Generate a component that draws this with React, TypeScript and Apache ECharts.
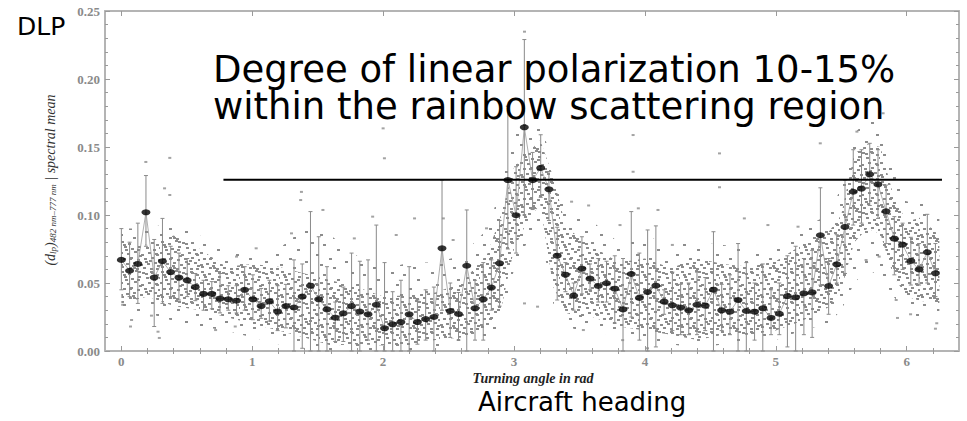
import React, { useEffect, useRef } from "react";
import * as echarts from "echarts";

// Turning angle (rad) of each bin mean
const angles = [
  0.000, 0.063, 0.126, 0.188, 0.251, 0.314, 0.377, 0.440, 0.503, 0.565,
  0.628, 0.691, 0.754, 0.817, 0.880, 0.942, 1.005, 1.068, 1.131, 1.194,
  1.257, 1.319, 1.382, 1.445, 1.508, 1.571, 1.634, 1.696, 1.759, 1.822,
  1.885, 1.948, 2.011, 2.073, 2.136, 2.199, 2.262, 2.325, 2.388, 2.450,
  2.513, 2.576, 2.639, 2.702, 2.765, 2.827, 2.890, 2.953, 3.016, 3.079,
  3.142, 3.204, 3.267, 3.330, 3.393, 3.456, 3.519, 3.581, 3.644, 3.707,
  3.770, 3.833, 3.896, 3.958, 4.021, 4.084, 4.147, 4.210, 4.273, 4.335,
  4.398, 4.461, 4.524, 4.587, 4.650, 4.712, 4.775, 4.838, 4.901, 4.964,
  5.027, 5.089, 5.152, 5.215, 5.278, 5.341, 5.404, 5.466, 5.529, 5.592,
  5.655, 5.718, 5.781, 5.843, 5.906, 5.969, 6.032, 6.095, 6.158, 6.220,
];

// Spectral-mean degree of linear polarization per bin
const means = [
  0.067, 0.059, 0.064, 0.102, 0.054, 0.066, 0.058, 0.054, 0.052, 0.047,
  0.042, 0.042, 0.0385, 0.038, 0.037, 0.045, 0.038, 0.033, 0.0365, 0.029,
  0.033, 0.032, 0.040, 0.048, 0.038, 0.0306, 0.0245, 0.0277, 0.033, 0.029,
  0.027, 0.034, 0.0167, 0.0196, 0.0213, 0.027, 0.0213, 0.0235, 0.025, 0.0755,
  0.0294, 0.0272, 0.0627, 0.0314, 0.038, 0.0466, 0.0645, 0.1257, 0.0998, 0.1645,
  0.1256, 0.1346, 0.1189, 0.0701, 0.0561, 0.0407, 0.0605, 0.0532, 0.0478, 0.0498,
  0.0458, 0.0306, 0.0566, 0.039, 0.0434, 0.048, 0.0363, 0.0336, 0.0319, 0.0299,
  0.034, 0.0333, 0.0451, 0.0299, 0.0289, 0.0375, 0.0294, 0.0289, 0.0314, 0.0243,
  0.0274, 0.0404, 0.0395, 0.0424, 0.0431, 0.0851, 0.0478, 0.0637, 0.0912, 0.1171,
  0.1194, 0.1299, 0.1225, 0.1027, 0.0826, 0.0782, 0.0662, 0.060, 0.0726, 0.0571,
];

const errHigh = [
  0.090, 0.080, 0.094, 0.129, 0.082, 0.0975, 0.077, 0.072, 0.068, 0.057,
  0.052, 0.051, 0.057, 0.048, 0.048, 0.062, 0.056, 0.046, 0.052, 0.048,
  0.049, 0.067, 0.064, 0.1025, 0.084, 0.062, 0.036, 0.047, 0.072, 0.066,
  0.067, 0.0926, 0.065, 0.0436, 0.052, 0.062, 0.0375, 0.045, 0.047, 0.1257,
  0.050, 0.043, 0.1037, 0.052, 0.065, 0.067, 0.096, 0.180, 0.1355, 0.229,
  0.146, 0.159, 0.132, 0.091, 0.065, 0.050, 0.084, 0.064, 0.068, 0.066,
  0.070, 0.068, 0.1025, 0.072, 0.089, 0.092, 0.045, 0.058, 0.049, 0.050,
  0.058, 0.054, 0.0877, 0.049, 0.056, 0.079, 0.065, 0.050, 0.064, 0.045,
  0.050, 0.070, 0.077, 0.068, 0.074, 0.120, 0.068, 0.0855, 0.1257, 0.148,
  0.148, 0.1527, 0.148, 0.122, 0.0988, 0.094, 0.0836, 0.079, 0.1005, 0.079,
];

const errLow = [
  0.045, 0.040, 0.035, 0.077, 0.018, 0.035, 0.040, 0.0375, 0.040, 0.037,
  0.030, 0.031, 0.028, 0.030, 0.028, 0.030, 0.023, 0.024, 0.022, 0.015,
  0.017, 0.000, 0.002, 0.000, 0.000, 0.000, 0.007, 0.007, 0.000, 0.000,
  0.008, 0.000, 0.000, 0.000, 0.000, 0.000, 0.005, 0.008, 0.000, 0.030,
  0.010, 0.008, 0.000, 0.008, 0.008, 0.030, 0.033, 0.075, 0.072, 0.100,
  0.104, 0.113, 0.096, 0.0375, 0.0436, 0.030, 0.042, 0.045, 0.036, 0.036,
  0.0205, 0.000, 0.025, 0.008, 0.000, 0.003, 0.027, 0.015, 0.012, 0.012,
  0.012, 0.015, 0.000, 0.015, 0.012, 0.000, 0.000, 0.008, 0.000, 0.012,
  0.012, 0.003, 0.000, 0.012, 0.010, 0.0485, 0.027, 0.050, 0.057, 0.0926,
  0.094, 0.107, 0.0975, 0.079, 0.056, 0.060, 0.0485, 0.0485, 0.050, 0.040,
];

// Envelopes of the cloud of single measurements (dense core and sparse fringe)
const cloudX = [
  0.0, 0.2, 0.4, 0.6, 0.8, 1.0, 1.2, 1.4, 1.6, 1.8, 2.0, 2.2, 2.4, 2.6, 2.8, 2.9,
  3.0, 3.1, 3.2, 3.3, 3.4, 3.5, 3.6, 3.8, 4.0, 4.2, 4.4, 4.6, 4.8, 5.0, 5.2, 5.4,
  5.5, 5.6, 5.7, 5.8, 5.9, 6.0, 6.1, 6.25,
];
const cloudUpper = [
  0.082, 0.078, 0.085, 0.075, 0.062, 0.064, 0.062, 0.057, 0.052, 0.047, 0.040, 0.041, 0.043, 0.050, 0.072, 0.100,
  0.135, 0.145, 0.155, 0.128, 0.090, 0.084, 0.077, 0.065, 0.068, 0.061, 0.068, 0.064, 0.062, 0.066, 0.078, 0.087,
  0.100, 0.145, 0.152, 0.150, 0.114, 0.095, 0.098, 0.085,
];
const cloudLower = [
  0.035, 0.040, 0.033, 0.030, 0.025, 0.020, 0.015, 0.010, 0.004, 0.005, 0.004, 0.004, 0.008, 0.010, 0.017, 0.030,
  0.075, 0.095, 0.108, 0.047, 0.028, 0.025, 0.025, 0.018, 0.015, 0.012, 0.008, 0.012, 0.012, 0.015, 0.022, 0.032,
  0.045, 0.080, 0.090, 0.086, 0.055, 0.040, 0.037, 0.035,
];
const fringeUpper = [
  0.090, 0.090, 0.095, 0.085, 0.075, 0.072, 0.075, 0.090, 0.085, 0.070, 0.060, 0.065, 0.065, 0.070, 0.090, 0.120,
  0.160, 0.170, 0.165, 0.140, 0.105, 0.100, 0.095, 0.080, 0.085, 0.078, 0.080, 0.078, 0.075, 0.078, 0.090, 0.100,
  0.120, 0.160, 0.170, 0.168, 0.135, 0.110, 0.110, 0.100,
];
const fringeLower = [
  0.025, 0.028, 0.022, 0.018, 0.015, 0.010, 0.005, 0.002, 0.000, 0.000, 0.000, 0.000, 0.002, 0.004, 0.010, 0.020,
  0.060, 0.080, 0.090, 0.035, 0.018, 0.015, 0.015, 0.010, 0.008, 0.005, 0.002, 0.005, 0.005, 0.008, 0.015, 0.020,
  0.030, 0.050, 0.060, 0.055, 0.040, 0.028, 0.025, 0.025,
];

// Isolated single measurements outside the cloud
const outlierX = [
  0.187, 0.37, 0.33, 0.37, 0.01, 0.078, 0.07, 0.28, 0.29, 0.23, 1.376, 1.37, 1.30, 1.03, 0.88, 0.72, 0.87,
  2.0, 2.01, 2.24, 1.92, 1.78, 1.54, 2.10, 2.46, 2.535, 2.79, 3.08, 3.08,
  3.91, 3.91, 4.57, 4.57, 3.18, 3.81, 3.95, 4.10, 4.21, 3.57, 3.44, 3.83, 4.02, 3.53,
  5.34, 4.76, 4.94, 5.17, 5.62, 5.82, 6.23, 6.22, 5.92, 5.93, 6.03, 5.69, 5.79,
];
const outlierY = [
  0.139, 0.142, 0.1196, 0.1147, 0.034, 0.0228, 0.018, 0.0142, 0.0096, 0.026, 0.117, 0.111, 0.0865, 0.0755, 0.0694, 0.0154, 0.018,
  0.1637, 0.1417, 0.0975, 0.0988, 0.0828, 0.1037, 0.0853, 0.0975, 0.0816, 0.0902, 0.2348, 0.035,
  0.1588, 0.1318, 0.1453, 0.1204, 0.0326, 0.0926, 0.1049, 0.1037, 0.078, 0.107, 0.1098, 0.008, 0.002, 0.0154,
  0.1527, 0.0975, 0.0926, 0.0914, 0.1613, 0.1748, 0.0204, 0.0164, 0.0375, 0.0243, 0.027, 0.0669, 0.0694,
];

// Reference level line
const thresholdX = [0.78, 6.27];
const thresholdY = [0.126, 0.126];

const xMajorTicks = [0, 1, 2, 3, 4, 5, 6];
const xMinorTicks = [
  0.2, 0.4, 0.6, 0.8, 1.2, 1.4, 1.6, 1.8, 2.2, 2.4, 2.6, 2.8, 3.2, 3.4, 3.6, 3.8,
  4.2, 4.4, 4.6, 4.8, 5.2, 5.4, 5.6, 5.8, 6.2,
];

const AXIS_GRAY = "#b4b4b4";
const TICK_GRAY = "#9a9a9a";
const LABEL_GRAY = "#8a8a8a";
const DOT_GRAY = "#8c8c8c";

// speckle texture layouts (styling only)
const DENSE_SPECKLE = [
  [1, 1], [8, 3], [15, 0], [22, 2], [30, 1], [36, 4], [4, 6], [11, 8], [18, 6], [26, 7],
  [33, 9], [39, 7], [0, 12], [7, 13], [14, 11], [21, 14], [28, 12], [35, 13], [3, 18], [10, 17],
  [17, 19], [24, 18], [31, 17], [38, 19], [6, 23], [13, 22], [20, 24], [27, 23], [34, 22], [1, 26],
  [9, 27], [16, 28], [23, 27], [30, 28], [37, 25], [19, 15], [25, 3], [12, 25], [5, 9], [29, 20],
  [36, 28], [18, 1],
];
const SPARSE_SPECKLE = [[3, 4], [17, 9], [31, 2], [9, 18], [25, 21], [36, 14], [13, 27], [0, 24]];

function makeTile(spots: number[][]) {
  const tile = document.createElement("canvas");
  tile.width = 40;
  tile.height = 30;
  const ctx = tile.getContext("2d");
  if (ctx) {
    ctx.fillStyle = DOT_GRAY;
    spots.forEach(([dx, dy]) => ctx.fillRect(dx, dy, 3, 2));
  }
  return tile;
}

export default function App() {
  const ref = useRef<HTMLDivElement>(null);

  useEffect(() => {
    if (!ref.current) return;
    const chart = echarts.init(ref.current, null, { renderer: "svg" });
    const denseTile = makeTile(DENSE_SPECKLE);
    const sparseTile = makeTile(SPARSE_SPECKLE);

    const bandSeries = (name: string, up: number[], lo: number[], tile: HTMLCanvasElement, z: number) => ({
      type: "custom",
      name,
      xAxisIndex: 0,
      yAxisIndex: 0,
      z,
      silent: true,
      data: [[0, 0]],
      renderItem: (_params: any, api: any) => {
        const pts: number[][] = [];
        for (let i = 0; i < cloudX.length; i++) pts.push(api.coord([cloudX[i], up[i]]));
        for (let i = cloudX.length - 1; i >= 0; i--) pts.push(api.coord([cloudX[i], lo[i]]));
        return {
          type: "polygon",
          shape: { points: pts },
          style: { fill: { image: tile, repeat: "repeat" }, stroke: null },
        };
      },
    });

    const xBase = { type: "value", min: -0.125, max: 6.4, gridIndex: 0, splitLine: { show: false } };

    const option: any = {
      animation: false,
      grid: { left: 105, top: 11, width: 854, height: 340 },
      xAxis: [
        {
          ...xBase,
          position: "bottom",
          axisLine: { show: true, onZero: false, lineStyle: { color: AXIS_GRAY, width: 2 } },
          axisTick: { show: true, inside: true, length: 5, customValues: xMajorTicks, lineStyle: { color: TICK_GRAY } },
          axisLabel: {
            show: true, customValues: xMajorTicks, margin: 4, color: LABEL_GRAY,
            fontFamily: "Liberation Serif", fontWeight: "bold", fontSize: 13,
          },
        },
        {
          ...xBase,
          position: "bottom",
          axisLine: { show: false },
          axisTick: { show: true, inside: true, length: 3, customValues: xMinorTicks, lineStyle: { color: TICK_GRAY } },
          axisLabel: { show: false },
        },
        {
          ...xBase,
          position: "top",
          axisLine: { show: true, onZero: false, lineStyle: { color: AXIS_GRAY, width: 2 } },
          axisTick: { show: true, inside: true, length: 5, customValues: xMajorTicks, lineStyle: { color: TICK_GRAY } },
          axisLabel: { show: false },
        },
        {
          ...xBase,
          position: "top",
          axisLine: { show: false },
          axisTick: { show: true, inside: true, length: 3, customValues: xMinorTicks, lineStyle: { color: TICK_GRAY } },
          axisLabel: { show: false },
        },
      ],
      yAxis: [
        {
          type: "value", min: 0, max: 0.25, interval: 0.05, position: "left",
          splitLine: { show: false },
          axisLine: { show: true, onZero: false, lineStyle: { color: AXIS_GRAY, width: 2 } },
          axisTick: { show: true, inside: true, length: 5, lineStyle: { color: TICK_GRAY } },
          minorTick: { show: true, splitNumber: 5, length: 3, lineStyle: { color: TICK_GRAY } },
          axisLabel: {
            margin: 5, color: LABEL_GRAY, fontFamily: "Liberation Serif", fontWeight: "bold", fontSize: 13,
            formatter: (v: number) => v.toFixed(2),
          },
        },
        {
          type: "value", min: 0, max: 0.25, interval: 0.05, position: "right",
          splitLine: { show: false },
          axisLine: { show: true, onZero: false, lineStyle: { color: AXIS_GRAY, width: 2 } },
          axisTick: { show: true, inside: true, length: 5, lineStyle: { color: TICK_GRAY } },
          minorTick: { show: true, splitNumber: 5, length: 3, lineStyle: { color: TICK_GRAY } },
          axisLabel: { show: false },
        },
      ],
      series: [
        bandSeries("fringe", fringeUpper, fringeLower, sparseTile, 1),
        bandSeries("cloud", cloudUpper, cloudLower, denseTile, 1),
        {
          type: "scatter",
          name: "single",
          xAxisIndex: 0,
          yAxisIndex: 0,
          z: 2,
          symbol: "rect",
          symbolSize: [3, 2],
          itemStyle: { color: DOT_GRAY },
          data: outlierX.map((x, i) => [x, outlierY[i]]),
        },
        {
          type: "custom",
          name: "errors",
          xAxisIndex: 0,
          yAxisIndex: 0,
          z: 3,
          encode: { x: 0, y: [1, 2] },
          data: angles.map((a, i) => [a, errLow[i], errHigh[i]]),
          renderItem: (_params: any, api: any) => {
            const x = api.value(0);
            const lo = api.coord([x, api.value(1)]);
            const hi = api.coord([x, api.value(2)]);
            const st = { stroke: "#8a8a8a", lineWidth: 1 };
            return {
              type: "group",
              children: [
                { type: "line", shape: { x1: lo[0], y1: lo[1], x2: hi[0], y2: hi[1] }, style: st },
                { type: "line", shape: { x1: hi[0] - 2, y1: hi[1], x2: hi[0] + 2, y2: hi[1] }, style: st },
                { type: "line", shape: { x1: lo[0] - 2, y1: lo[1], x2: lo[0] + 2, y2: lo[1] }, style: st },
              ],
            };
          },
        },
        {
          type: "line",
          name: "meanLine",
          xAxisIndex: 0,
          yAxisIndex: 0,
          z: 4,
          symbol: "none",
          lineStyle: { color: "#9a9a9a", width: 0.8 },
          data: angles.map((a, i) => [a, means[i]]),
        },
        {
          type: "scatter",
          name: "means",
          xAxisIndex: 0,
          yAxisIndex: 0,
          z: 5,
          symbol: "circle",
          symbolSize: [9, 6],
          itemStyle: { color: "#000" },
          data: angles.map((a, i) => [a, means[i]]),
        },
        {
          type: "line",
          name: "threshold",
          xAxisIndex: 0,
          yAxisIndex: 0,
          z: 6,
          symbol: "none",
          lineStyle: { color: "#000", width: 2 },
          data: thresholdX.map((x, i) => [x, thresholdY[i]]),
        },
      ],
      graphic: [
        {
          type: "text", x: 17, y: 26,
          style: { text: "DLP", font: '25px "DejaVu Sans"', fill: "#000", align: "left", verticalAlign: "middle" },
        },
        {
          type: "text", x: 213, y: 88, z: 10,
          style: {
            text: "Degree of linear polarization 10-15%\nwithin the rainbow scattering region",
            font: '37px "DejaVu Sans"', lineHeight: 37, fill: "#000", align: "left", verticalAlign: "middle",
          },
        },
        {
          type: "text", x: 533, y: 378,
          style: { text: "Turning angle in rad", font: 'italic bold 14px "Liberation Serif"', fill: "#222", align: "center", verticalAlign: "middle" },
        },
        {
          type: "text", x: 478, y: 402,
          style: { text: "Aircraft heading", font: '26px "DejaVu Sans"', fill: "#000", align: "left", verticalAlign: "middle" },
        },
        {
          type: "text", x: 50, y: 180, rotation: Math.PI / 2,
          style: {
            text: "(d{s|lp}){s|482 nm\u2013777 nm} | spectral mean",
            fontFamily: "Liberation Serif", fontStyle: "italic", fontSize: 14, fill: "#333",
            align: "center", verticalAlign: "middle",
            rich: { s: { fontFamily: "Liberation Serif", fontStyle: "italic", fontSize: 9, fill: "#333", padding: [6, 0, 0, 0] } },
          },
        },
      ],
    };

    chart.setOption(option);
    return () => chart.dispose();
  }, []);

  return <div ref={ref} style={{ position: "absolute", left: 0, top: 0, width: 967, height: 421 }} />;
}
